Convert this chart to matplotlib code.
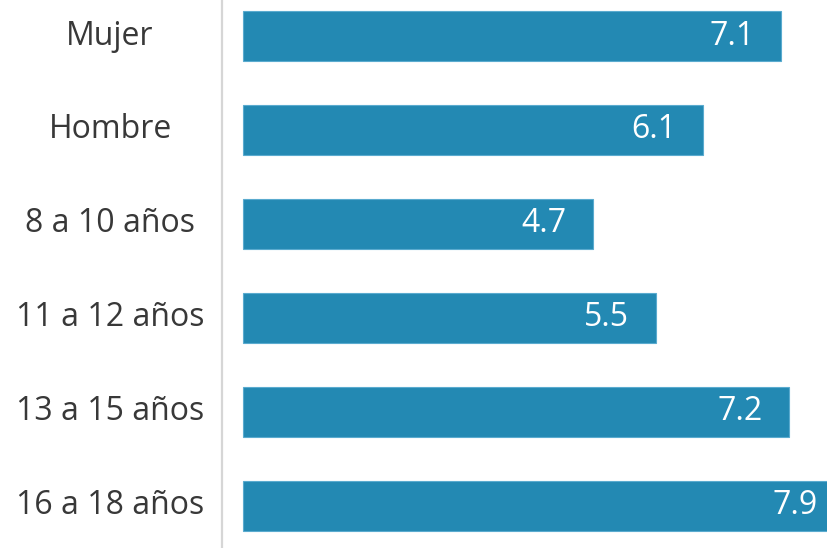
import matplotlib
matplotlib.use("Agg")
import matplotlib.pyplot as plt
from matplotlib import transforms

categories = ["Mujer", "Hombre", "8 a 10 años", "11 a 12 años", "13 a 15 años", "16 a 18 años"]
values = [7.1, 6.1, 4.7, 5.5, 7.2, 7.9]

W, H = 827, 548
fig = plt.figure(figsize=(W / 100, H / 100), dpi=100)
ax_left_px = 222
ax = fig.add_axes([ax_left_px / W, 0, 1 - ax_left_px / W, 1])

px_per_unit = 78.5
x0 = -2 / px_per_unit
xmax = x0 + (W - ax_left_px) / px_per_unit
gap = 19 / px_per_unit  # visual gap between axis line and bar start

y = list(range(len(categories)))
ax.barh(y, [v - gap for v in values], left=gap, height=0.53,
        color="#2389b3", edgecolor="#5aabcf", linewidth=0.8)

ax.set_xlim(x0, xmax)
ax.set_ylim(5.447, -0.383)

for s in ["top", "right", "bottom"]:
    ax.spines[s].set_visible(False)
ax.spines["left"].set_color("#d6d6d6")
ax.spines["left"].set_linewidth(1.6)
ax.set_xticks([])
ax.set_yticks([])

font = "Open Sans"
for yi, v in zip(y, values):
    ax.annotate(f"{v:.1f}", xy=(v, yi), xytext=(-19, 0), textcoords="offset points",
                ha="right", va="center", color="white", fontsize=23, family=font,
                annotation_clip=False, clip_on=True)

# category labels
trans = transforms.blended_transform_factory(fig.transFigure, ax.transData)
for yi, c in zip(y, categories):
    fig.text(110 / W, yi, c, transform=trans, ha="center", va="center",
             color="#383838", fontsize=23, family=font)

fig.savefig("out.png", dpi=100)
